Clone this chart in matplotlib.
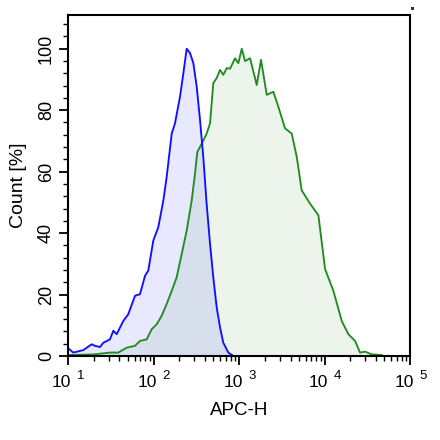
import numpy as np
import matplotlib
matplotlib.use("Agg")
import matplotlib.pyplot as plt
from matplotlib.patches import Rectangle
from matplotlib.ticker import MultipleLocator, LogLocator, NullFormatter

plt.rcParams['font.family'] = ['Liberation Sans', 'DejaVu Sans']

# blue histogram (control): log10(APC-H) and count %
blue_log = [1.015, 1.062, 1.179, 1.277, 1.316, 1.374, 1.413, 1.491, 1.530, 1.570,
            1.647, 1.705, 1.784, 1.842, 1.901, 1.939, 1.998, 2.056, 2.115, 2.154,
            2.213, 2.251, 2.310, 2.349, 2.388, 2.427, 2.466, 2.505, 2.544, 2.582,
            2.621, 2.661, 2.699, 2.739, 2.778, 2.816, 2.875, 2.933, 3.070]
blue_pct = [2.2, 1.1, 1.9, 3.8, 3.3, 2.9, 4.3, 5.4, 8.2, 7.1,
            11.4, 13.6, 19.6, 20.1, 26.1, 27.8, 37.6, 41.9, 50.6, 58.3,
            72.4, 75.7, 84.4, 92.0, 100.0, 98.6, 95.3, 87.7, 76.8, 64.8,
            49.6, 36.5, 25.6, 15.8, 9.3, 4.3, 1.1, 0.0, 0.0]

# green histogram (stained)
green_log = [1.015, 1.296, 1.491, 1.588, 1.687, 1.784, 1.842, 1.920, 1.979, 2.037,
             2.096, 2.154, 2.213, 2.271, 2.330, 2.388, 2.447, 2.485, 2.512, 2.564,
             2.622, 2.661, 2.699, 2.739, 2.778, 2.816, 2.856, 2.895, 2.953, 2.992,
             3.032, 3.070, 3.129, 3.207, 3.257, 3.324, 3.401, 3.460, 3.538, 3.616,
             3.675, 3.733, 3.830, 3.928, 4.006, 4.103, 4.201, 4.278, 4.357, 4.415,
             4.474, 4.552, 4.669]
green_pct = [0.3, 0.5, 1.1, 1.1, 2.7, 3.3, 4.9, 5.4, 8.7, 10.3,
             13.1, 16.9, 21.2, 25.6, 33.2, 40.8, 50.7, 59.3, 66.4, 69.1,
             72.4, 75.7, 88.8, 90.5, 93.1, 91.5, 93.7, 93.5, 96.9, 95.3,
             100.0, 96.0, 96.9, 88.2, 96.4, 85.0, 86.0, 81.1, 74.1, 72.4,
             64.8, 53.9, 49.6, 45.8, 28.3, 21.2, 11.4, 7.1, 4.9, 1.1,
             1.4, 0.5, 0.3]

decades = [10, 100, 1000, 10000, 100000]
exponents = ['1', '2', '3', '4', '5']

fig = plt.figure(figsize=(4.4, 4.4), dpi=100)
ax = fig.add_axes([0.1545, 0.191, 0.7775, 0.775])

bx = 10 ** np.array(blue_log)
gx = 10 ** np.array(green_log)

ax.fill_between(bx, blue_pct, color='#0000ff', alpha=0.09, lw=0)
ax.fill_between(gx, green_pct, color='#2e8b2e', alpha=0.09, lw=0)
ax.plot(gx, green_pct, color='#228b22', lw=1.35)
ax.plot(bx, blue_pct, color='#1010ff', lw=1.35)

ax.set_xscale('log')
ax.set_xlim(10, 100000)
ax.set_ylim(0, 111)
ax.set_xticks(decades, [''] * len(decades))
ax.xaxis.set_minor_locator(LogLocator(base=10, subs=np.arange(2, 10)))
ax.xaxis.set_minor_formatter(NullFormatter())
ax.set_yticks([0, 20, 40, 60, 80, 100])
ax.yaxis.set_minor_locator(MultipleLocator(4))
for lab in ax.get_yticklabels():
    lab.set_rotation(90)
    lab.set_va('center')

# decade labels written as "10" plus a raised exponent
for d, e in zip(decades, exponents):
    ax.annotate('10', xy=(d, 0), xycoords=('data', 'axes fraction'),
                xytext=(2.5, -14), textcoords='offset points',
                ha='right', va='top', fontsize=12.5, annotation_clip=False)
    ax.annotate(e, xy=(d, 0), xycoords=('data', 'axes fraction'),
                xytext=(6.5, -10), textcoords='offset points',
                ha='left', va='top', fontsize=9.5, annotation_clip=False)

ax.tick_params(which='major', length=6.5, width=1.3, direction='out', pad=3)
ax.tick_params(axis='y', which='major', labelsize=13)
ax.tick_params(which='minor', length=3.5, width=1.0, direction='out')
for s in ax.spines.values():
    s.set_linewidth(1.5)

ax.set_xlabel('APC-H', fontsize=13.5, labelpad=24)
ax.set_ylabel('Count [%]', fontsize=14, labelpad=8)

# small mark in the top right corner of the image
fig.add_artist(Rectangle((411 / 440, 1 - 10 / 440), 3 / 440, 3 / 440,
                         transform=fig.transFigure, color='#333333', lw=0))

fig.savefig('out.png', dpi=100)
